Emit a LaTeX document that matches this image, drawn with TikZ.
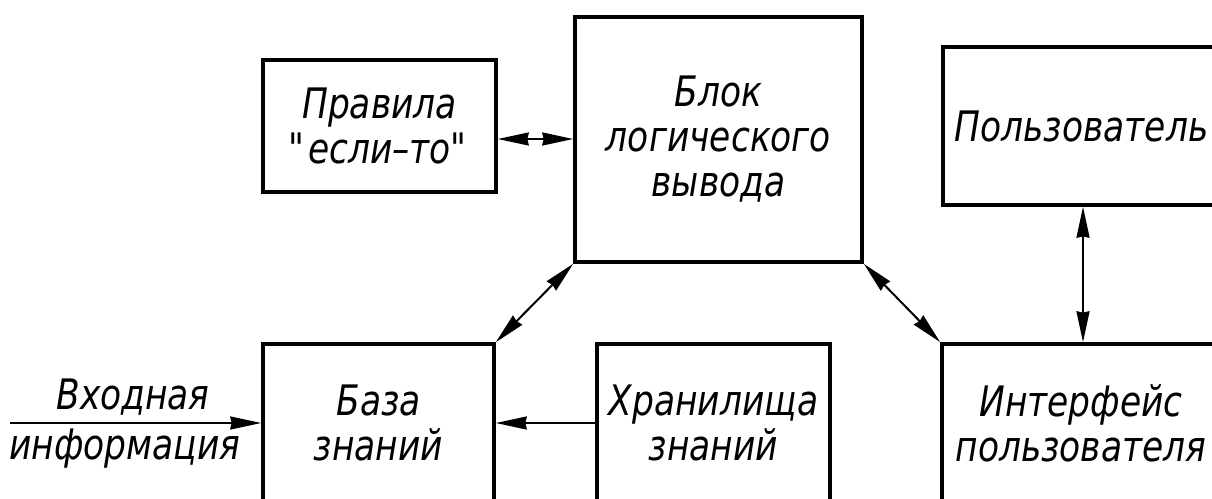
\documentclass[tikz,border=0pt]{standalone}
\usepackage{fontspec}
\newfontfamily\gost[FakeStretch=0.82]{DejaVu Sans}
\usetikzlibrary{arrows.meta}
\begin{document}
\begin{tikzpicture}[x=1pt,y=-1pt,
  box/.style={draw, line width=3.6pt, inner sep=0pt, align=center},
  txt/.style={inner sep=0pt, align=center},
  tipA/.tip={Stealth[length=31pt,width=13pt,inset=1.5pt]},
  arr/.style={line width=2pt, -tipA},
  dbl/.style={line width=2pt, tipA-tipA},
  font=\gost\itshape\fontsize{42}{45}\selectfont]
\useasboundingbox (0,0) rectangle (1212,498);
\clip (0,0) rectangle (1212,498);
\node[box, minimum width=233pt, minimum height=132pt] (rules) at (379.5,126) {Правила\\\textquotedbl если–то\textquotedbl};
\node[box, minimum width=287pt, minimum height=245pt] (block) at (718.5,139.5) {Блок\\логического\\вывода};
\node[box, minimum width=277pt, minimum height=158pt] (user) at (1081.5,126) {Пользователь};
\node[box, minimum width=231pt, minimum height=158pt] (base) at (378.5,423) {База\\знаний};
\node[box, minimum width=233pt, minimum height=158pt] (store) at (713.5,423) {Хранилища\\знаний};
\node[box, minimum width=278pt, minimum height=158pt] (iface) at (1081,423) {Интерфейс\\пользователя};
\coordinate (in) at (10,423);
\node[txt] (inA) at (133,397) {Входная};
\node[txt] (inB) at (125,449) {информация};
\draw[dbl] ([yshift=-13pt]rules.east) -- ([yshift=-13pt]rules.east -| block.west);
\draw[dbl] (block.south west) -- (base.north east);
\draw[dbl] (block.south east) -- (iface.north west);
\draw[dbl] ([xshift=1.5pt]user.south) -- ([xshift=1.5pt]user.south |- iface.north);
\draw[arr] (store.west) -- (base.east);
\draw[arr] (in) -- (base.west);
\end{tikzpicture}
\end{document}
